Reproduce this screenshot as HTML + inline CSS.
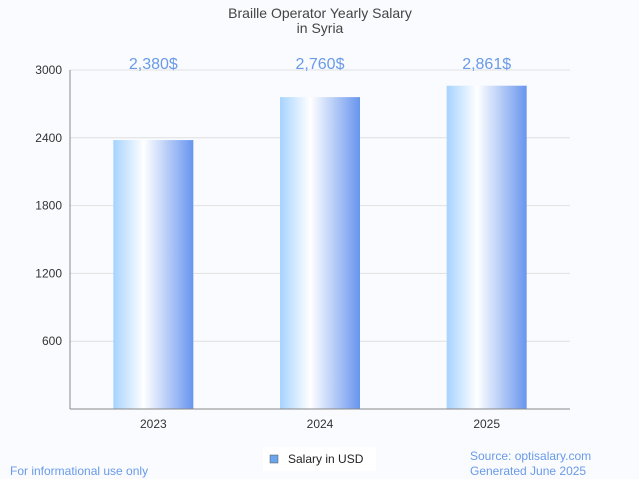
<!DOCTYPE html>
<html><head><meta charset="utf-8"><style>
body{margin:0;width:639px;height:479px;background:#f9fbfe;font-family:"Liberation Sans",sans-serif;overflow:hidden}
svg{display:block}
</style></head><body>
<svg id="c" width="639" height="479">
<defs><linearGradient id="g" x1="0" x2="1" y1="0" y2="0">
<stop offset="0" stop-color="#a6d3ff"/><stop offset="0.38" stop-color="#ffffff"/><stop offset="1" stop-color="#6895ee"/></linearGradient></defs>
<text x="320" y="18" text-anchor="middle" font-size="14" fill="#444">Braille Operator Yearly Salary</text>
<text x="320" y="33" text-anchor="middle" font-size="14" fill="#444">in Syria</text>
<g id="grid"></g><g id="bars"></g>
<line x1="70" y1="409" x2="570" y2="409" stroke="#888"/>
<line x1="70" y1="70" x2="70" y2="409" stroke="#888"/>
<g>
<rect x="263" y="447" width="113" height="24" fill="#fff"/>
<rect x="270" y="455" width="8" height="8" fill="#6aa5ee" stroke="#555" stroke-width="0.5"/>
<text x="288" y="463" font-size="12" fill="#222">Salary in USD</text></g>
<text x="10" y="475" font-size="12" fill="#6a9ae8">For informational use only</text>
<text x="470" y="460" font-size="12" fill="#6a9ae8">Source: optisalary.com</text>
<text x="470" y="475" font-size="12" fill="#6a9ae8">Generated June 2025</text>
</svg>
<script>
const categories=["2023","2024","2025"];
const values=[2380,2760,2861];
const labels=["2,380$","2,760$","2,861$"];
const ticks=[600,1200,1800,2400,3000];
const NS="http://www.w3.org/2000/svg";
const y=v=>409-v*339/3000;
const x=i=>70+(i+0.5)*500/3;
function mk(t,a,p){const e=document.createElementNS(NS,t);for(const k in a)e.setAttribute(k,a[k]);p.appendChild(e);return e;}
const grid=document.getElementById("grid"),bars=document.getElementById("bars");
ticks.forEach(t=>{
const l=mk("line",{x1:70,x2:570,y1:y(t),y2:y(t),stroke:"#e0e0e0"},grid);


const tx=mk("text",{x:62,y:y(t)+4,"text-anchor":"end","font-size":12,fill:"#333"},grid);tx.textContent=t;


});
categories.forEach((c,i)=>{
const r=mk("rect",{x:x(i)-40,y:y(values[i]),width:80,height:409-y(values[i]),fill:"url(#g)"},bars);


const v=mk("text",{x:x(i),y:69,"text-anchor":"middle","font-size":16,fill:"#6a9ae8"},bars);v.textContent=labels[i];


const t=mk("text",{x:x(i),y:428,"text-anchor":"middle","font-size":12,fill:"#333"},bars);t.textContent=c;


});
</script>
</body></html>
